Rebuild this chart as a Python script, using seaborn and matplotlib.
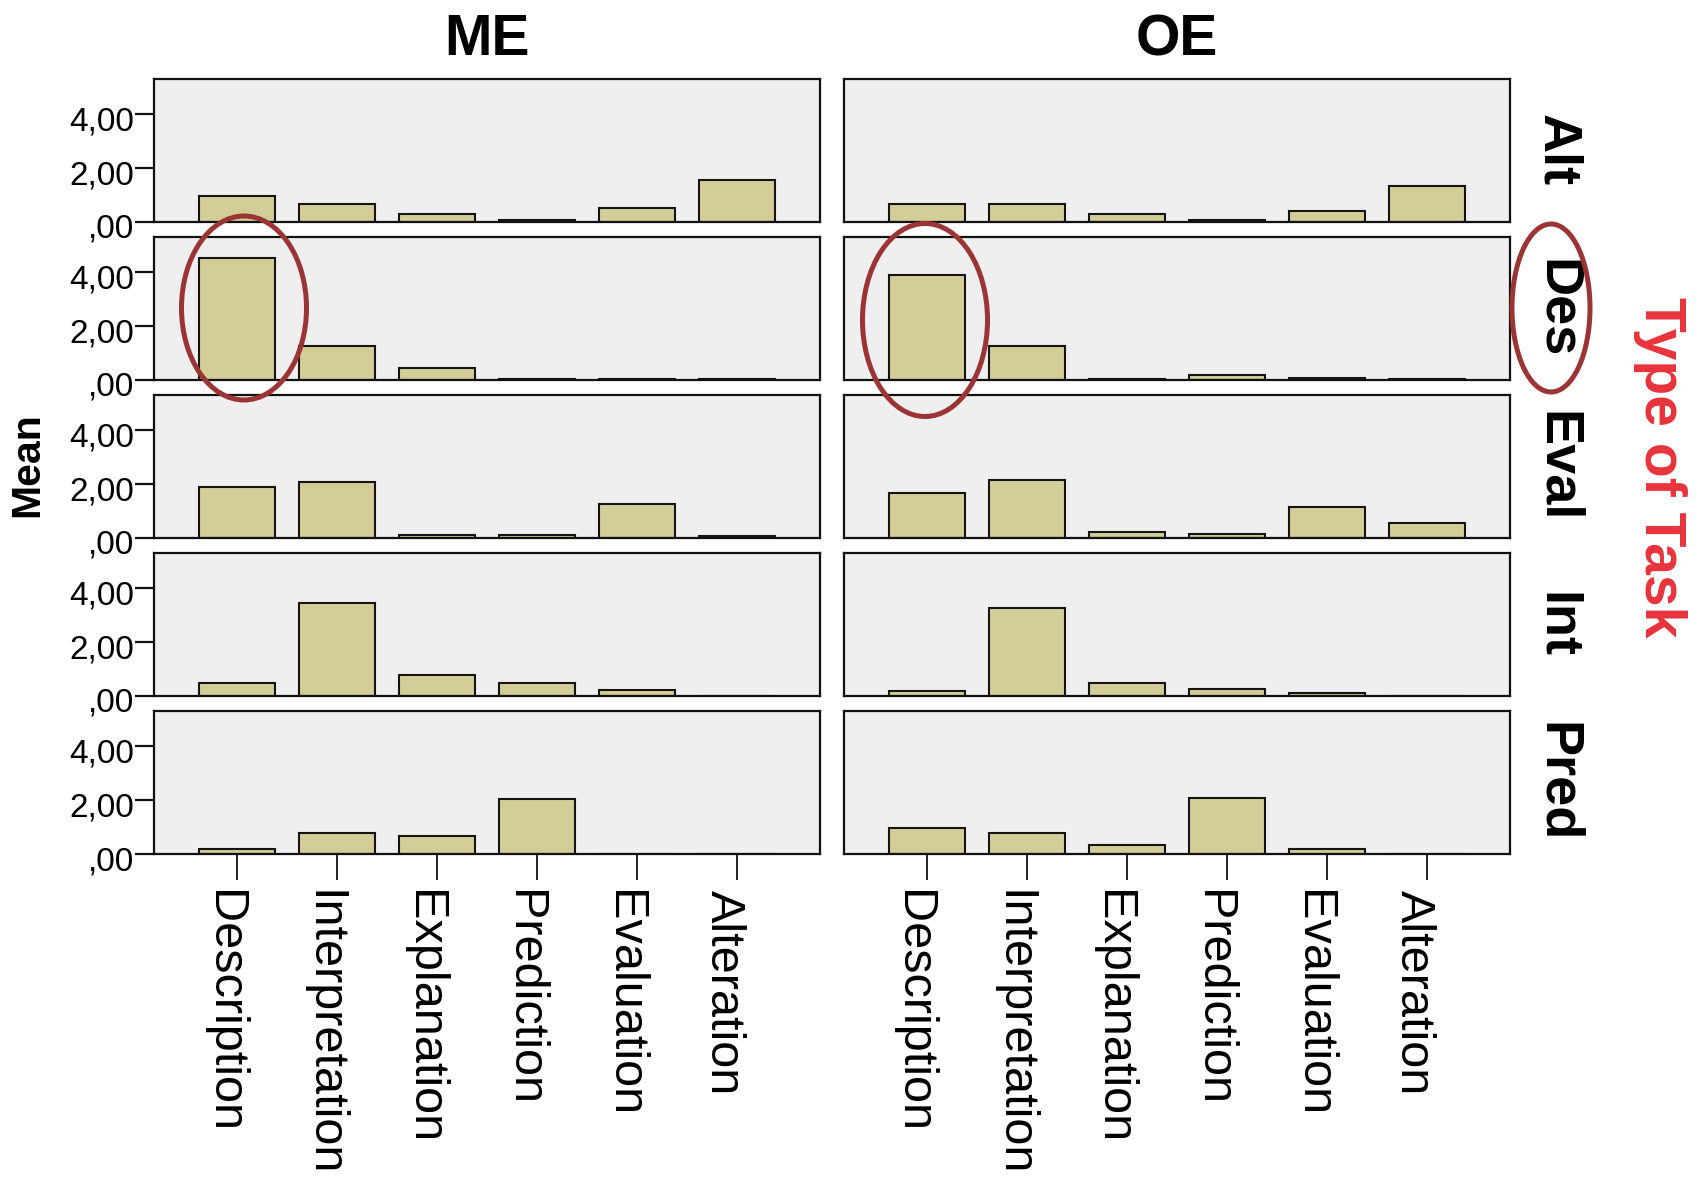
import numpy as np
import pandas as pd
import seaborn as sns
import matplotlib
matplotlib.use("Agg")
import matplotlib.pyplot as plt
from matplotlib.patches import Ellipse
from matplotlib.transforms import ScaledTranslation

# Categories
categories = ["Description", "Interpretation", "Explanation", "Prediction", "Evaluation", "Alteration"]
modes = ["ME", "OE"]
tasks = ["Alt", "Des", "Eval", "Int", "Pred"]

# Mean values per task type (rows) for each mode (columns)
me_alt = [0.97, 0.65, 0.30, 0.06, 0.50, 1.56]
me_des = [4.53, 1.25, 0.46, 0.03, 0.03, 0.03]
me_eval = [1.90, 2.06, 0.12, 0.12, 1.26, 0.09]
me_int = [0.48, 3.43, 0.78, 0.48, 0.21, 0.00]
me_pred = [0.19, 0.77, 0.67, 2.05, 0.00, 0.00]

oe_alt = [0.67, 0.68, 0.30, 0.08, 0.39, 1.35]
oe_des = [3.91, 1.25, 0.03, 0.18, 0.06, 0.03]
oe_eval = [1.65, 2.15, 0.21, 0.15, 1.16, 0.56]
oe_int = [0.17, 3.25, 0.48, 0.26, 0.10, 0.00]
oe_pred = [0.97, 0.77, 0.35, 2.09, 0.17, 0.00]

yticks = [0, 2, 4]
ytick_labels = [",00", "2,00", "4,00"]

series = {
    ("ME", "Alt"): me_alt, ("ME", "Des"): me_des, ("ME", "Eval"): me_eval,
    ("ME", "Int"): me_int, ("ME", "Pred"): me_pred,
    ("OE", "Alt"): oe_alt, ("OE", "Des"): oe_des, ("OE", "Eval"): oe_eval,
    ("OE", "Int"): oe_int, ("OE", "Pred"): oe_pred,
}
rows = []
for (m, t), vals in series.items():
    for c, v in zip(categories, vals):
        rows.append({"Mode": m, "Task": t, "Category": c, "Mean": v})
df = pd.DataFrame(rows)

sns.set_theme(style="white")
plt.rcParams["font.family"] = ["Liberation Sans", "DejaVu Sans"]
plt.rcParams["text.color"] = "black"
plt.rcParams["xtick.color"] = "black"
plt.rcParams["ytick.color"] = "black"
plt.rcParams["axes.labelcolor"] = "black"

W, H = 1696, 1184
g = sns.catplot(
    data=df, kind="bar", x="Category", y="Mean", col="Mode", row="Task",
    order=categories, col_order=modes, row_order=tasks,
    color="#d3ce98", saturation=1, width=0.76,
    edgecolor="#141414", linewidth=1.5, errorbar=None,
    sharex=True, sharey=True, height=2, aspect=3,
)
fig = g.figure
fig.set_size_inches(W / 100, H / 100)
fig.set_dpi(100)
fig.subplots_adjust(left=154 / W, right=1510 / W, top=1 - 79 / H, bottom=1 - 854 / H,
                    wspace=0.036, hspace=0.105)
g.set_titles("")
g.set_axis_labels("", "")

xshift = ScaledTranslation(-14 / 100, 0, fig.dpi_scale_trans)
yshift = ScaledTranslation(0, -4 / 100, fig.dpi_scale_trans)

for i, task in enumerate(tasks):
    for j, mode in enumerate(modes):
        ax = g.axes[i, j]
        ax.set_facecolor("#efefef")
        ax.set_xlim(-0.83, 5.83)
        ax.set_ylim(0, 5.3)
        for sp in ax.spines.values():
            sp.set_visible(True)
            sp.set_color("#111111")
            sp.set_linewidth(1.6)
        ax.set_yticks(yticks)
        if j == 0:
            ax.set_yticklabels(ytick_labels, fontsize=24)
            ax.tick_params(axis="y", left=True, length=14, width=1.6, color="#111111", pad=0)
            for lab in ax.get_yticklabels():
                lab.set_transform(lab.get_transform() + yshift)
        else:
            ax.tick_params(axis="y", left=False, labelleft=False)
        if i == len(tasks) - 1:
            ax.set_xticks(range(len(categories)))
            ax.set_xticklabels(categories, rotation=270, fontsize=35, va="top", ha="center")
            ax.tick_params(axis="x", bottom=True, length=19, width=1.3, color="#111111", pad=7)
            for lab in ax.get_xticklabels():
                lab.set_transform(lab.get_transform() + xshift)
        else:
            ax.tick_params(axis="x", bottom=False, labelbottom=False)
        if i == 0:
            ax.set_title(mode, fontsize=41, fontweight="bold", pad=17)
        if j == 1:
            ax.text(1.071, 0.5, task, transform=ax.transAxes, rotation=270,
                    fontsize=39, fontweight="bold", ha="center", va="center")

fig.text(27 / W, 1 - 465 / H, "Mean", rotation=90, fontsize=29.5, fontweight="bold",
         ha="center", va="center")
fig.text(1660 / W, 1 - 467 / H, "Type of Task", rotation=270, fontsize=41,
         fontweight="bold", color="#e8333b", ha="center", va="center")

# highlight rings
for cx, cy, w, h in [(244, 308, 125, 184), (925, 320, 125, 193), (1551, 308, 78, 168)]:
    fig.add_artist(Ellipse((cx / W, 1 - cy / H), w / W, h / H, transform=fig.transFigure,
                           fill=False, edgecolor="#9b3535", linewidth=3.6, zorder=10))

fig.savefig("out.png", dpi=100)
